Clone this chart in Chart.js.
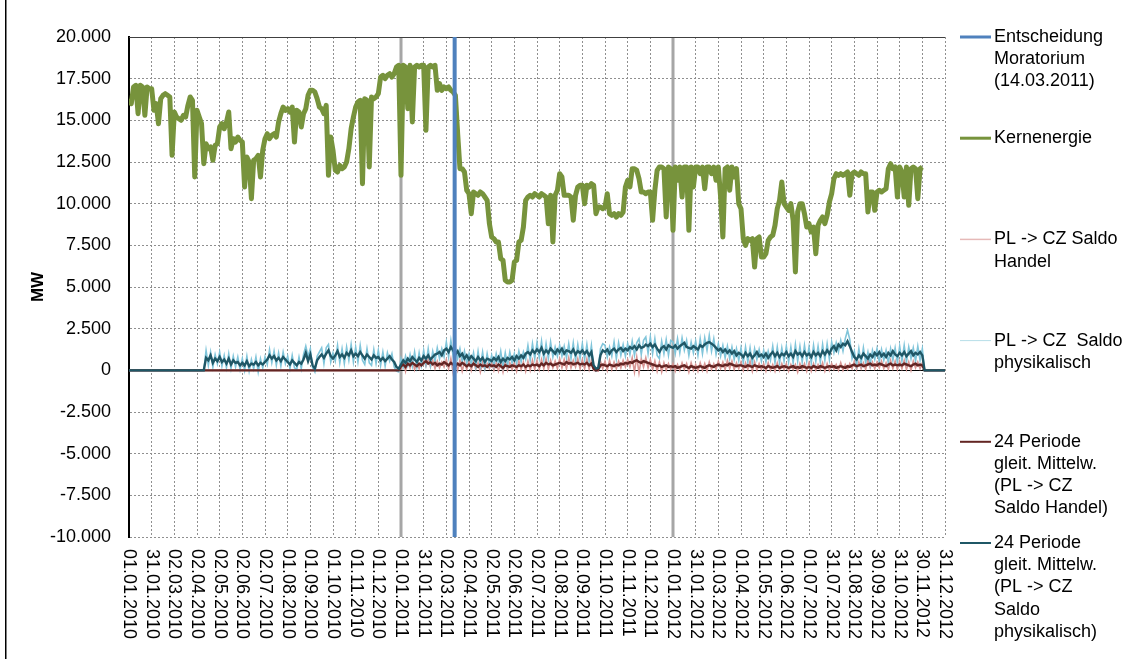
<!DOCTYPE html>
<html lang="de">
<head>
<meta charset="utf-8">
<title>Kernenergie und Saldo PL -&gt; CZ</title>
<script src="https://cdn.jsdelivr.net/npm/chart.js@4.4.0/dist/chart.umd.min.js"></script>
<style>
    html, body { margin: 0; padding: 0; background: #fff; }
    #wrap { position: relative; width: 1136px; height: 659px; }
</style>
</head>
<body>
<div id="wrap"><canvas id="myChart" width="1136" height="659"></canvas></div>

<script>
// Stundenwerte ab 01.01.2010 00:00, ein Wert alle 73 Stunden (10 Werte je Achsenintervall von 730 h)
const schrittStunden = 73;
const tickStunden = 730;
const moratoriumStunde = 10488;           // 14.03.2011
const jahreswechsel = [8760, 17520];      // 01.01.2011, 01.01.2012

const tickLabels = ["01.01.2010","31.01.2010","02.03.2010","02.04.2010","02.05.2010","02.06.2010","02.07.2010",
    "01.08.2010","01.09.2010","01.10.2010","01.11.2010","01.12.2010","01.01.2011","31.01.2011","02.03.2011",
    "02.04.2011","02.05.2011","02.06.2011","02.07.2011","01.08.2011","01.09.2011","01.10.2011","01.11.2011",
    "01.12.2011","01.01.2012","31.01.2012","01.03.2012","01.04.2012","01.05.2012","01.06.2012","01.07.2012",
    "31.07.2012","31.08.2012","30.09.2012","31.10.2012","30.11.2012","31.12.2012"];

const kernenergie = [
    16300,16000,17000,17100,15400,17100,17000,15300,17000,16900,
    16900,15600,16000,14800,16300,16500,16600,16500,16400,12900,
    15500,15200,15100,15000,15300,15200,15900,16400,16200,11600,
    15600,15200,14800,12400,13600,13300,13400,12600,13500,13600,
    14600,14800,14500,14900,15500,13300,13900,13700,14000,13800,
    13700,11000,12800,12500,10300,12600,12700,12900,11600,13200,
    13900,14200,13900,14100,14200,14000,14900,15400,15800,15600,
    15700,15500,15800,13700,15600,15500,14600,15400,15700,16500,
    16800,16800,16700,16300,15800,15700,15400,15900,11700,14000,
    13200,12000,11900,12300,12100,12200,12500,13300,14500,15200,
    15800,16100,16200,11200,16300,16200,12200,16400,16300,16400,
    16600,17600,17700,17500,17700,17800,17600,17800,18200,18300,
    11700,18300,18200,15700,18300,14900,18200,18300,18200,18300,
    18300,14400,18200,18300,18200,18300,16800,17200,16800,17000,
    16900,17000,16800,16700,16500,14200,12100,12100,11900,10800,
    10600,9400,10700,10600,10500,10700,10600,10400,10200,8800,
    8000,7900,7700,7700,6700,6600,5400,5300,5300,5400,
    6500,6600,7700,7800,8600,10200,10400,10500,10400,10600,
    10500,10400,10600,10500,10400,8800,10500,7700,10500,10800,
    11800,11600,10500,10500,10500,10400,9000,10500,11000,11100,
    11100,10000,11100,11000,11200,11100,9400,9800,9800,9700,
    9800,10600,9400,9300,9400,9200,9400,9300,9500,11000,
    11400,11000,12100,12100,12000,11500,10700,10700,10600,10700,
    10700,9000,10800,12000,12200,12200,12100,9200,12200,12100,
    8400,12200,11400,12200,10400,12200,12200,8400,12200,11000,
    12200,12200,11800,12200,10900,12200,12200,11800,12200,11400,
    12200,10400,8000,12100,12200,10800,12200,11600,12100,10000,
    9700,7900,7500,7900,7800,7900,6200,7900,8000,6800,
    6800,7000,7800,8000,8100,8700,9700,10200,11300,10000,
    9800,9600,10000,9000,5900,9500,10000,10000,9400,8600,
    8800,8300,8600,7000,8700,9000,9200,8800,9300,10100,
    10600,11500,11800,11700,11800,11700,11800,11900,10500,11800,
    11900,11800,11700,11900,11800,11800,9500,10700,10700,9600,
    10700,10800,10700,10800,10900,12100,12400,12100,12200,10400,
    12200,11900,10400,12200,9900,12100,12200,12100,10300,12100,
    12200
];

const saldoHandel = [
    0,0,0,0,0,0,0,0,0,0, 0,0,0,0,0,0,0,0,0,0, 0,0,0,0,0,0,0,0,0,0,
    0,0,0,0,0,0,0,0,0,0, 0,0,0,0,0,0,0,0,0,0, 0,0,0,0,0,0,0,0,0,0,
    0,0,0,0,0,0,0,0,0,0, 0,0,0,0,0,0,0,0,0,0, 0,0,0,0,0,0,0,0,0,0,
    0,0,0,0,0,0,0,0,0,0, 0,0,0,0,0,0,0,0,0,0, 0,0,0,0,0,0,0,0,0,0,
    100,550,-50,600,150,650,50,500,100,550,
    650,250,700,200,600,100,550,150,500,200,
    650,100,700,-150,550,0,600,-50,500,50,
    600,0,550,50,450,-100,500,50,400,100,
    500,0,450,-50,500,-100,550,0,450,50,
    450,-50,550,50,500,-50,550,0,600,50,
    600,50,650,100,700,50,600,150,550,100,
    700,150,650,100,750,150,600,200,700,100,
    650,100,700,50,600,0,-50,-50,550,100,
    550,0,600,50,500,100,550,150,600,200,
    650,200,750,-100,800,-150,700,200,750,150,
    650,50,550,-50,500,-100,450,0,400,50,
    400,-50,350,0,450,50,400,-100,450,0,
    350,-50,450,0,400,-50,500,50,400,50,
    550,100,500,50,600,100,550,50,450,100,
    500,0,450,50,550,-50,500,0,400,50,
    400,-50,450,0,350,-50,450,0,400,50,
    400,-50,350,50,350,-100,400,50,400,-50,
    450,-50,400,0,350,50,450,-50,400,0,
    400,50,350,0,450,0,350,50,400,100,
    550,50,500,100,450,50,600,150,500,100,
    500,150,550,100,450,50,600,100,550,50,
    550,100,600,50,500,0,550,150,500,100,
    450,0,0,0,0,0,0,0,0,0,
    0
];

const saldoPhysikalisch = [
    0,0,0,0,0,0,0,0,0,0, 0,0,0,0,0,0,0,0,0,0, 0,0,0,0,0,0,0,0,0,0,
    0,0,0,0,1200,300,1100,200,950,400,
    1100,250,900,150,1000,100,850,200,800,50,
    700,0,850,-50,650,100,800,-100,700,150,
    800,350,1250,450,1150,300,1050,250,1100,400,
    850,100,900,150,50,800,100,950,1450,850,
    1300,150,-100,850,1100,1350,400,1350,1550,500,
    1050,550,1500,450,1300,400,1400,600,1550,500,
    1400,500,1500,600,350,1300,450,300,1250,400,
    1200,300,1100,250,1050,550,1000,200,-50,-100,
    700,200,850,300,950,250,1100,200,1050,300,
    1200,350,1300,300,1150,550,1350,700,1300,800,
    1700,800,1800,850,1350,700,1300,500,1150,400,
    1000,350,1050,200,1150,250,1100,150,1000,300,
    900,250,1000,400,1150,200,1050,300,1100,450,
    1000,400,1150,500,1100,650,1500,600,1600,700,
    1650,750,1750,650,1600,700,1700,800,1400,850,
    1500,850,1450,750,1600,700,1650,600,1550,700,
    1600,650,1550,550,1500,100,-50,50,1300,1600,
    1500,800,1400,850,1700,700,1650,900,1550,850,
    1600,950,1750,900,1650,1900,950,1800,2000,1000,
    2000,1000,1900,900,700,1750,1000,1850,900,1800,
    1700,1000,1900,1050,1950,1200,1800,900,1700,1050,
    1750,900,1900,1000,1950,1200,2100,1150,1900,950,
    1600,850,1500,750,1450,700,1400,650,1300,600,
    1350,450,1400,500,1350,400,1300,650,1250,550,
    1200,500,1150,600,1450,450,1400,450,1350,550,
    1450,500,1400,450,1550,550,1450,500,1500,550,
    1400,450,1500,550,1450,500,1550,600,1600,650,
    1700,1050,1650,1100,1800,1150,1900,2400,1850,700,
    1150,300,1300,400,1350,450,1100,350,1200,650,
    1300,500,1250,600,1200,450,1300,600,1350,450,
    1450,550,1500,500,1400,700,1350,550,1450,600,
    1300,0,0,0,0,0,0,0,0,0,
    0
];

// 24 Perioden gleitender Mittelwert
const mittelHandel = [
    0,0,0,0,0,0,0,0,0,0, 0,0,0,0,0,0,0,0,0,0, 0,0,0,0,0,0,0,0,0,0,
    0,0,0,0,0,0,0,0,0,0, 0,0,0,0,0,0,0,0,0,0, 0,0,0,0,0,0,0,0,0,0,
    0,0,0,0,0,0,0,0,0,0, 0,0,0,0,0,0,0,0,0,0, 0,0,0,0,0,0,0,0,0,0,
    0,0,0,0,0,0,0,0,0,0, 0,0,0,0,0,0,0,0,0,0, 0,0,0,0,0,0,0,0,0,0,
    250,350,200,400,300,450,350,250,400,300,
    450,550,400,500,350,450,300,400,350,500,
    400,300,450,350,250,400,300,450,350,250,
    350,250,400,300,200,350,250,300,200,350,
    250,300,200,350,250,150,300,250,200,300,
    250,200,300,250,350,200,300,250,350,300,
    350,250,400,300,450,350,400,300,350,400,
    450,400,350,500,400,450,350,400,450,350,
    400,350,450,300,400,100,0,50,300,350,
    300,250,350,300,250,350,300,400,350,450,
    400,500,450,550,600,500,450,550,500,450,
    400,350,300,250,300,200,250,300,200,250,
    200,250,150,200,250,300,200,150,250,200,
    150,200,250,200,150,250,300,250,200,300,
    350,300,250,350,300,400,350,300,250,300,
    300,250,200,300,250,200,300,250,200,250,
    200,150,250,200,150,200,250,150,200,250,
    200,150,200,250,150,200,150,250,200,150,
    200,150,250,200,150,250,200,150,200,250,
    200,250,150,200,250,200,150,250,200,300,
    350,250,300,350,250,300,350,400,300,350,
    300,400,350,300,250,350,400,300,350,300,
    350,300,400,350,300,250,350,400,300,350,
    300,0,0,0,0,0,0,0,0,0,
    0
];

const mittelPhysikalisch = [
    0,0,0,0,0,0,0,0,0,0, 0,0,0,0,0,0,0,0,0,0, 0,0,0,0,0,0,0,0,0,0,
    0,0,0,0,750,600,900,450,700,550,
    800,500,650,400,700,350,600,450,500,300,
    450,300,550,250,400,350,500,300,450,350,
    500,650,900,700,850,600,750,550,800,650,
    500,350,600,450,300,500,400,650,1050,550,
    950,300,100,600,800,950,750,1000,1200,850,
    700,900,1150,800,950,750,1050,900,1200,850,
    1000,850,1100,900,700,950,800,650,900,750,
    800,600,750,550,700,850,650,500,200,100,
    350,600,450,700,550,800,650,500,750,600,
    850,700,900,650,800,950,1000,1100,900,1200,
    1300,1100,1400,1200,950,1150,850,1000,700,900,
    650,850,700,550,800,600,750,500,700,650,
    550,750,600,800,500,700,550,750,650,800,
    600,850,700,900,750,1000,1100,950,1200,1050,
    1250,1100,1350,1000,1200,1050,1300,1150,1000,1250,
    1100,1300,1000,1200,1150,1050,1250,950,1150,1050,
    1200,1000,1150,900,1100,300,100,150,900,1200,
    1100,1250,1000,1200,1300,1100,1250,1350,1150,1300,
    1200,1400,1300,1450,1250,1500,1350,1400,1550,1450,
    1600,1400,1550,1300,1100,1350,1450,1250,1500,1400,
    1350,1500,1300,1450,1550,1650,1400,1350,1300,1450,
    1350,1250,1500,1400,1550,1650,1700,1600,1500,1350,
    1200,1300,1100,1250,1050,1200,1000,1150,900,1050,
    950,800,1050,850,1000,750,900,1100,850,950,
    800,1000,750,950,1100,850,1050,800,1000,900,
    1100,850,1000,800,1150,950,1050,850,1100,900,
    1000,800,1100,900,1050,850,1150,950,1200,1000,
    1300,1450,1200,1550,1400,1600,1500,1750,1450,1100,
    800,650,900,750,1000,850,700,950,800,1050,
    900,1100,850,1000,800,1050,900,1150,950,850,
    1050,900,1100,850,1000,1150,900,1050,950,1100,
    900,0,0,0,0,0,0,0,0,0,
    0
];

const legendeZeilen = [
    ["Entscheidung", "Moratorium", "(14.03.2011)"],
    ["Kernenergie"],
    ["PL -> CZ Saldo", "Handel"],
    ["PL -> CZ  Saldo", "physikalisch"],
    ["24 Periode", "gleit. Mittelw.", "(PL -> CZ", "Saldo Handel)"],
    ["24 Periode", "gleit. Mittelw.", "(PL -> CZ", "Saldo", "physikalisch)"]
];

const schrift = '"Liberation Sans", Arial, sans-serif';
Chart.defaults.font.family = schrift;
Chart.defaults.color = '#000';

function punkte(werte) {
    return werte.map((v, i) => ({x: i * schrittStunden, y: v}));
}

function formatMW(v) {
    const s = String(Math.abs(v)).replace(/\B(?=(\d{3})+(?!\d))/g, '.');
    return (v < 0 ? '-' : '') + s;
}

const datasets = [
    { label: 'Entscheidung Moratorium (14.03.2011)', data: [{x: moratoriumStunde, y: -10000}, {x: moratoriumStunde, y: 20000}],
      borderColor: '#4F81BD', borderWidth: 4, order: 0, legendWidth: 3 },
    { label: 'Kernenergie', data: punkte(kernenergie), borderColor: '#77933C', borderWidth: 5,
      borderJoinStyle: 'round', order: 1, legendWidth: 3 },
    { label: 'PL -> CZ Saldo Handel', data: punkte(saldoHandel), borderColor: '#D99694', borderWidth: 1.6,
      order: 5, legendWidth: 1.5, legendColor: '#E6B9B8' },
    { label: 'PL -> CZ  Saldo physikalisch', data: punkte(saldoPhysikalisch), borderColor: '#80C5DA', borderWidth: 1.6,
      order: 4, legendWidth: 1, legendColor: '#B7DEE8' },
    { label: '24 Periode gleit. Mittelw. (PL -> CZ Saldo Handel)', data: punkte(mittelHandel), borderColor: '#632523',
      borderWidth: 2.4, order: 3, legendWidth: 2 },
    { label: '24 Periode gleit. Mittelw. (PL -> CZ Saldo physikalisch)', data: punkte(mittelPhysikalisch),
      borderColor: '#1F5766', borderWidth: 2.4, order: 2, legendWidth: 2 }
];

// Jahreswechsel, Nulllinie und oberer Rand hinter den Linien
const hintergrundPlugin = {
    id: 'hintergrund',
    beforeDatasetsDraw(chart) {
        const {ctx, chartArea, scales: {x, y}} = chart;
        ctx.save();
        ctx.strokeStyle = '#A6A6A6';
        ctx.lineWidth = 3;
        jahreswechsel.forEach(h => {
            const px = x.getPixelForValue(h);
            ctx.beginPath();
            ctx.moveTo(px, chartArea.top);
            ctx.lineTo(px, chartArea.bottom);
            ctx.stroke();
        });
        ctx.strokeStyle = '#000';
        ctx.lineWidth = 1;
        const y0 = Math.round(y.getPixelForValue(0)) + 0.5;
        ctx.beginPath();
        ctx.moveTo(chartArea.left, y0);
        ctx.lineTo(chartArea.right, y0);
        ctx.stroke();
        ctx.strokeStyle = '#404040';
        ctx.beginPath();
        ctx.moveTo(chartArea.left, chartArea.top + 0.5);
        ctx.lineTo(chartArea.right, chartArea.top + 0.5);
        ctx.stroke();
        ctx.restore();
    }
};

// gedrehte Datumsbeschriftung, Legende rechts und Rahmen
const beschriftungPlugin = {
    id: 'beschriftung',
    afterDraw(chart) {
        const {ctx, chartArea, scales: {x}} = chart;
        ctx.save();
        ctx.fillStyle = '#000';
        ctx.font = '18px ' + schrift;
        ctx.textAlign = 'left';
        ctx.textBaseline = 'middle';
        tickLabels.forEach((t, i) => {
            const px = x.getPixelForValue(i * tickStunden);
            ctx.save();
            ctx.translate(px, chartArea.bottom + 12);
            ctx.rotate(Math.PI / 2);
            ctx.fillText(t, 0, 0);
            ctx.restore();
        });

        const lx = chartArea.right + 15;
        legendeZeilen.forEach((zeilen, i) => {
            const ds = chart.data.datasets[i];
            const top = 37 + i * 101.2;
            ctx.strokeStyle = ds.legendColor || ds.borderColor;
            ctx.lineWidth = ds.legendWidth;
            ctx.beginPath();
            ctx.moveTo(lx, top);
            ctx.lineTo(lx + 31, top);
            ctx.stroke();
            zeilen.forEach((z, j) => ctx.fillText(z, lx + 34, top + j * 22.2));
        });

        ctx.fillRect(5, 0, 1.5, chart.height);
        ctx.restore();
    }
};

const ctx = document.getElementById('myChart').getContext('2d');
const myChart = new Chart(ctx, {
    type: 'line',
    data: { datasets: datasets },
    options: {
        responsive: false,
        animation: false,
        devicePixelRatio: 1,
        layout: { padding: { top: 37, right: 191, bottom: 0, left: 0 } },
        elements: { point: { radius: 0 }, line: { tension: 0 } },
        plugins: { legend: { display: false }, tooltip: { enabled: false } },
        scales: {
            x: {
                type: 'linear',
                min: 0,
                max: tickStunden * (tickLabels.length - 1),
                afterBuildTicks: axis => { axis.ticks = tickLabels.map((t, i) => ({value: i * tickStunden})); },
                afterFit: axis => { axis.height = 122; },
                ticks: { display: false },
                grid: { color: '#8f8f8f', lineWidth: 1, drawTicks: false },
                border: { display: false, dash: [2, 2] }
            },
            y: {
                min: -10000,
                max: 20000,
                afterFit: axis => { axis.width = 129; },
                ticks: { stepSize: 2500, padding: 18, font: { size: 18 }, callback: v => formatMW(v) },
                grid: { color: '#8f8f8f', lineWidth: 1, drawTicks: false },
                border: { display: true, color: '#000', width: 2, dash: [2, 2] },
                title: { display: true, text: 'MW', font: { size: 17, weight: 'bold' }, padding: { top: 28, bottom: 0 } }
            }
        }
    },
    plugins: [hintergrundPlugin, beschriftungPlugin]
});
</script>
</body>
</html>
